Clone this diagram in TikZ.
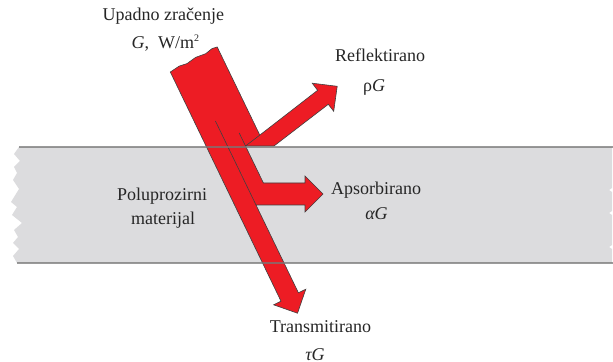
\documentclass[tikz,border=0pt]{standalone}
\usepackage{fontspec}
\setmainfont{Liberation Serif}
\usepackage{tikz}
\usetikzlibrary{positioning}

\definecolor{beamred}{RGB}{237,28,36}
\definecolor{slabgray}{RGB}{220,220,222}
\definecolor{edgegray}{RGB}{120,120,120}

\begin{document}
\begin{tikzpicture}[
    x=0.5pt, y=-0.5pt,
    slab/.style={fill=slabgray, draw=none},
    edge/.style={draw=edgegray, line width=0.8pt, opacity=0.75},
    beam/.style={fill=beamred, draw=black!75, line width=0.3pt, line join=miter},
    split/.style={draw=black!75, line width=0.3pt},
    lbl/.style={font=\fontsize{9}{11}\selectfont, text=black!85, inner sep=0pt, anchor=base}
]
\useasboundingbox (0,0) rectangle (613,362);

% Slab
\fill[slab] (19,147) -- (612,147) -- (612,188) -- (609,190) -- (612,192) -- (612,211)
    -- (609,213) -- (612,215) -- (612,245) -- (609,247) -- (612,249) -- (612,263)
    -- (17,263) -- (13,256) -- (19,249) -- (13,243) -- (18,237) -- (14,230) -- (22,223)
    -- (12,215) -- (17,207) -- (11,202) -- (19,189) -- (13,180) -- (17,173) -- (14,167)
    -- (20,161) -- (14,154) -- cycle;

% Beam
\draw[beam] (170.3,72) -- (179.2,66.1) -- (187,63.6) -- (195.6,57.4) -- (205.7,53.7)
    -- (212,48.6) -- (217.2,47) -- (259.8,135.1)
    -- (317.6,90.3) -- (312.2,83.2) -- (337.2,86.3) -- (333.7,111.3) -- (328.3,104.3)
    -- (274,146) -- (245.5,146) -- (263.4,183)
    -- (305,183) -- (305,176) -- (323,194) -- (305,212) -- (305,205) -- (256,205)
    -- (298.4,292.8) -- (305.8,289.2) -- (297.5,313.2) -- (273.6,304.8) -- (281,301.2)
    -- cycle;
\draw[split] (215.4,121) -- (256,205);
\draw[split] (239.2,133) -- (245.5,146) -- (259.8,135.1);

% Slab edges
\draw[edge] (19,147) -- (613,147);
\draw[edge] (17,263) -- (613,263);

% Labels
\node[lbl] (incname) at (163.4,20.7) {Upadno zračenje};
\node[lbl] (incunit) at (165.3,49) {\textit{G},\ \ W/m\raisebox{0.9ex}{\fontsize{5}{5}\selectfont 2}};
\node[lbl] (reflname) at (380,61.7) {Reflektirano};
\node[lbl] (reflval) at (374,92) {ρ\textit{G}};
\node[lbl] (absname) at (376.2,195) {Apsorbirano};
\node[lbl] (absval) at (376.5,219.3) {\textit{αG}};
\node[lbl] (slabname) at (162,200.7) {Poluprozirni};
\node[lbl] (slabmat) at (163,225) {materijal};
\node[lbl] (transname) at (320.5,332.7) {Transmitirano};
\node[lbl] (transval) at (315,360.5) {\textit{τG}};
\end{tikzpicture}
\end{document}
